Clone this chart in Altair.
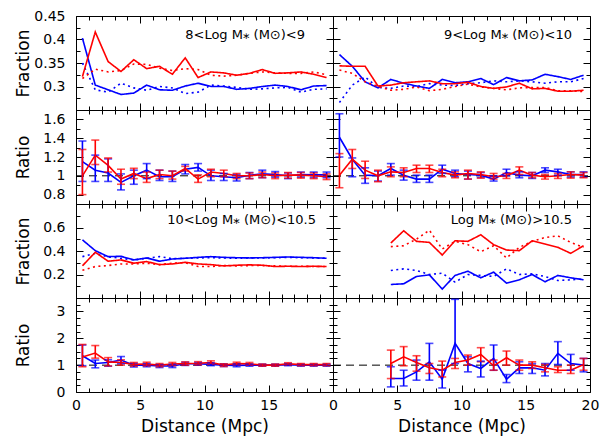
import altair as alt
import pandas as pd

FONT = "DejaVu Sans"
W, H = 257, 94
BLUE, RED = "#0000ff", "#ff0000"

# ---------------- data ----------------
dist = [0.5, 1.5, 2.5, 3.5, 4.5, 5.5, 6.5, 7.5, 8.5, 9.5,
        10.5, 11.5, 12.5, 13.5, 14.5, 15.5, 16.5, 17.5, 18.5, 19.5]
dist_hi = [4.5, 5.5, 6.5, 7.5, 8.5, 9.5, 10.5, 11.5, 12.5, 13.5,
           14.5, 15.5, 16.5, 17.5, 18.5, 19.5]

labels = ["8<Log M\u204e (M\u2299)<9", "9<Log M\u204e (M\u2299)<10",
          "10<Log M\u204e (M\u2299)<10.5", "Log M\u204e (M\u2299)>10.5"]

# fractions, 8<logM<9
f1_blue = [0.403, 0.303, 0.293, 0.283, 0.286, 0.303, 0.293, 0.292, 0.301, 0.307,
           0.300, 0.300, 0.294, 0.296, 0.300, 0.303, 0.300, 0.293, 0.301, 0.302]
f1_blue_dot = [0.350, 0.293, 0.288, 0.307, 0.297, 0.292, 0.300, 0.297, 0.285, 0.288,
               0.303, 0.301, 0.298, 0.294, 0.295, 0.297, 0.298, 0.288, 0.294, 0.295]
f1_red = [0.321, 0.416, 0.353, 0.332, 0.357, 0.338, 0.343, 0.326, 0.361, 0.319,
          0.331, 0.329, 0.324, 0.328, 0.336, 0.328, 0.329, 0.331, 0.326, 0.319]
f1_red_dot = [0.317, 0.337, 0.331, 0.334, 0.348, 0.347, 0.339, 0.334, 0.338, 0.336,
              0.324, 0.322, 0.324, 0.328, 0.331, 0.329, 0.328, 0.328, 0.331, 0.325]

# fractions, 9<logM<10
f2_blue = [0.368, 0.343, 0.310, 0.297, 0.315, 0.307, 0.301, 0.296, 0.315, 0.308,
           0.310, 0.317, 0.304, 0.319, 0.312, 0.314, 0.326, 0.321, 0.315, 0.324]
f2_blue_dot = [0.266, 0.303, 0.320, 0.298, 0.296, 0.301, 0.300, 0.306, 0.303, 0.302,
               0.306, 0.308, 0.312, 0.310, 0.312, 0.310, 0.307, 0.310, 0.310, 0.317]
f2_red = [0.344, 0.343, 0.343, 0.301, 0.303, 0.308, 0.310, 0.312, 0.306, 0.306,
          0.309, 0.300, 0.296, 0.299, 0.307, 0.295, 0.296, 0.290, 0.290, 0.292]
f2_red_dot = [0.335, 0.328, 0.310, 0.300, 0.292, 0.294, 0.299, 0.291, 0.294, 0.300,
              0.305, 0.299, 0.296, 0.293, 0.297, 0.298, 0.298, 0.291, 0.291, 0.289]

# fractions, 10<logM<10.5
f3_blue = [0.495, 0.403, 0.352, 0.355, 0.324, 0.341, 0.313, 0.332, 0.338, 0.346,
           0.352, 0.346, 0.343, 0.341, 0.343, 0.346, 0.349, 0.346, 0.343, 0.338]
f3_blue_dot = [0.352, 0.380, 0.350, 0.338, 0.324, 0.338, 0.352, 0.335, 0.338, 0.341,
               0.343, 0.341, 0.338, 0.341, 0.341, 0.343, 0.346, 0.343, 0.341, 0.338]
f3_red = [0.274, 0.389, 0.313, 0.324, 0.296, 0.310, 0.284, 0.290, 0.304, 0.290,
          0.284, 0.273, 0.279, 0.282, 0.279, 0.268, 0.270, 0.268, 0.270, 0.268]
f3_red_dot = [0.236, 0.268, 0.276, 0.290, 0.290, 0.296, 0.284, 0.296, 0.301, 0.268,
              0.268, 0.276, 0.273, 0.276, 0.276, 0.273, 0.270, 0.270, 0.268, 0.268]

# fractions, logM>10.5 (from 4.5 Mpc)
f4_blue = [0.115, 0.121, 0.183, 0.197, 0.076, 0.192, 0.228, 0.172, 0.220, 0.127,
           0.155, 0.200, 0.138, 0.192, 0.172, 0.155]
f4_blue_dot = [0.234, 0.248, 0.234, 0.200, 0.211, 0.135, 0.200, 0.192, 0.183, 0.248,
               0.200, 0.205, 0.183, 0.149, 0.155, 0.163]
f4_red = [0.468, 0.572, 0.482, 0.473, 0.366, 0.487, 0.482, 0.538, 0.454, 0.408,
          0.403, 0.487, 0.459, 0.431, 0.380, 0.445]
f4_red_dot = [0.437, 0.445, 0.501, 0.577, 0.417, 0.482, 0.454, 0.394, 0.445, 0.341,
              0.431, 0.482, 0.515, 0.529, 0.473, 0.431]

# ratios, 8<logM<9
r1_blue = [1.15, 1.06, 1.03, 0.93, 1.00, 1.06, 0.99, 0.99, 1.07, 1.09,
           1.00, 0.99, 0.98, 1.005, 1.02, 1.014, 1.00, 1.014, 1.01, 1.01]
r1_blue_lo = [0.94, 0.94, 0.94, 0.85, 0.91, 0.97, 0.95, 0.94, 1.02, 1.05,
              0.95, 0.95, 0.945, 0.97, 0.98, 0.985, 0.97, 0.985, 0.98, 0.98]
r1_blue_hi = [1.37, 1.22, 1.18, 1.02, 1.06, 1.13, 1.06, 1.05, 1.12, 1.13,
              1.06, 1.025, 1.015, 1.035, 1.06, 1.045, 1.03, 1.04, 1.04, 1.04]
r1_red = [1.00, 1.22, 1.11, 0.965, 1.025, 0.97, 1.014, 1.00, 1.078, 0.965,
          1.04, 1.025, 1.00, 1.00, 1.014, 1.00, 1.007, 1.007, 1.00, 0.99]
r1_red_lo = [0.80, 1.12, 1.04, 0.91, 0.97, 0.93, 0.97, 0.965, 1.05, 0.93,
             0.99, 0.99, 0.97, 0.97, 0.98, 0.97, 0.975, 0.975, 0.97, 0.96]
r1_red_hi = [1.28, 1.38, 1.19, 1.07, 1.08, 1.04, 1.06, 1.05, 1.10, 1.01,
             1.07, 1.06, 1.025, 1.03, 1.04, 1.03, 1.035, 1.035, 1.03, 1.02]

# ratios, 9<logM<10
r2_blue = [1.41, 1.176, 1.007, 1.00, 1.078, 1.007, 0.965, 0.965, 1.07, 1.025,
           1.014, 1.007, 0.965, 1.035, 1.007, 1.00, 1.06, 1.042, 1.014, 1.014]
r2_blue_lo = [1.20, 0.99, 0.92, 0.944, 1.007, 0.954, 0.93, 0.93, 1.025, 0.99,
              0.965, 0.982, 0.944, 1.00, 0.979, 0.972, 1.035, 1.007, 0.986, 0.986]
r2_blue_hi = [1.66, 1.19, 1.085, 1.05, 1.13, 1.06, 1.007, 1.007, 1.113, 1.06,
              1.05, 1.035, 1.00, 1.07, 1.042, 1.035, 1.085, 1.07, 1.042, 1.042]
r2_red = [1.007, 1.176, 1.06, 1.00, 1.042, 1.035, 1.078, 1.078, 1.035, 1.007,
          1.025, 1.014, 0.99, 1.00, 1.06, 1.007, 0.99, 1.00, 1.014, 1.007]
r2_red_lo = [0.873, 1.078, 0.972, 0.937, 0.99, 0.99, 1.035, 1.035, 0.99, 0.979,
             0.965, 0.975, 0.965, 0.972, 1.014, 0.979, 0.965, 0.972, 0.975, 0.979]
r2_red_hi = [1.236, 1.28, 1.155, 1.06, 1.095, 1.085, 1.113, 1.113, 1.07, 1.042,
             1.06, 1.042, 1.025, 1.025, 1.095, 1.035, 1.014, 1.025, 1.042, 1.035]

# ratios, 10<logM<10.5
r3_blue = [1.35, 1.06, 1.10, 1.19, 1.00, 1.00, 0.97, 0.97, 1.05, 1.05,
           1.03, 1.00, 0.99, 1.00, 1.00, 1.00, 1.02, 1.00, 1.00, 1.00]
r3_blue_lo = [0.98, 0.90, 0.96, 1.05, 0.93, 0.94, 0.91, 0.91, 0.99, 1.00,
              0.98, 0.95, 0.94, 0.96, 0.96, 0.96, 0.98, 0.96, 0.96, 0.96]
r3_blue_hi = [1.75, 1.19, 1.20, 1.32, 1.07, 1.06, 1.03, 1.03, 1.11, 1.10,
              1.08, 1.05, 1.04, 1.04, 1.04, 1.04, 1.06, 1.04, 1.04, 1.04]
r3_red = [1.30, 1.45, 1.12, 1.10, 1.03, 1.04, 1.00, 1.04, 1.06, 1.07,
          1.10, 1.00, 1.06, 1.05, 1.00, 1.00, 1.05, 1.02, 1.02, 1.02]
r3_red_lo = [0.94, 1.26, 0.97, 1.00, 0.96, 0.97, 0.94, 0.98, 1.00, 1.01,
             1.04, 0.95, 1.01, 1.00, 0.96, 0.96, 1.01, 0.98, 0.98, 0.98]
r3_red_hi = [1.77, 1.73, 1.28, 1.20, 1.10, 1.11, 1.06, 1.10, 1.12, 1.13,
             1.16, 1.05, 1.11, 1.10, 1.04, 1.04, 1.09, 1.06, 1.06, 1.06]

# ratios, logM>10.5 (from 4.5 Mpc)
r4_blue = [0.50, 0.50, 0.75, 1.125, 0.475, 1.81, 1.06, 0.875, 1.25, 0.475,
           0.90, 0.90, 0.81, 1.44, 1.06, 1.00]
r4_blue_lo = [0.19, 0.225, 0.44, 0.44, 0.15, 1.06, 0.75, 0.56, 0.81, 0.35,
              0.69, 0.69, 0.60, 1.025, 0.81, 0.75]
r4_blue_hi = [0.94, 0.81, 1.19, 1.81, 0.81, 3.45, 1.31, 1.15, 1.75, 0.65,
              1.125, 1.06, 1.06, 1.875, 1.40, 1.25]
r4_red = [1.06, 1.31, 1.10, 0.90, 0.81, 1.10, 1.19, 1.40, 0.975, 1.275,
          1.00, 1.00, 0.90, 0.81, 0.81, 1.025]
r4_red_lo = [0.50, 0.975, 0.775, 0.69, 0.56, 0.875, 1.00, 1.125, 0.81, 1.00,
             0.81, 0.875, 0.75, 0.725, 0.69, 0.81]
r4_red_hi = [1.56, 1.69, 1.35, 1.06, 1.15, 1.25, 1.375, 1.65, 1.19, 1.525,
             1.19, 1.125, 1.025, 0.94, 1.00, 1.25]

# axis tick values
xticks = list(range(21))
yt_f1 = [0.25, 0.275, 0.3, 0.325, 0.35, 0.375, 0.4, 0.425, 0.45]
yt_r1 = [0.7, 0.8, 0.9, 1.0, 1.1, 1.2, 1.3, 1.4, 1.5, 1.6, 1.7]
yt_f2 = [0.0, 0.1, 0.2, 0.3, 0.4, 0.5, 0.6, 0.7, 0.8]
yt_r2 = [0.0, 0.25, 0.5, 0.75, 1.0, 1.25, 1.5, 1.75, 2.0, 2.25, 2.5, 2.75, 3.0, 3.25, 3.5]


# ---------------- helpers ----------------
def frac_df(d, bs, bd, rs, rd):
    rows = []
    for series, style, vals in [("blue", "solid", bs), ("blue", "dot", bd),
                                ("red", "solid", rs), ("red", "dot", rd)]:
        for x, v in zip(d, vals):
            rows.append({"d": x, "v": v, "series": series, "style": style,
                         "grp": series + style})
    return pd.DataFrame(rows)


def ratio_df(d, b, blo, bhi, r, rlo, rhi):
    rows = []
    for series, vals, lo, hi in [("blue", b, blo, bhi), ("red", r, rlo, rhi)]:
        for x, v, l, h in zip(d, vals, lo, hi):
            rows.append({"d": x, "v": v, "lo": l, "hi": h, "series": series})
    return pd.DataFrame(rows)


def x_enc(bottom, maxlab):
    lab = ("datum.value % 5 == 0 && datum.value <= " + str(maxlab)
           + " ? format(datum.value, 'd') : ''")
    kw = dict(values=xticks, grid=True, gridColor="black", gridOpacity=1, gridWidth=1,
              gridDash={"condition": {"test": "datum.value % 5 == 0", "value": [7, H - 14, 7]},
                        "value": [4, H - 8, 4]},
              ticks=False, domain=False, labels=bottom, labelExpr=lab, labelFont=FONT,
              labelFontSize=14, labelPadding=6, labelFlush=False, labelOverlap=False,
              labelColor="black", titleFont=FONT, titleFontSize=17, titleFontWeight="normal",
              titlePadding=6, titleColor="black")
    kw["title"] = "Distance (Mpc)" if bottom else None
    return alt.X("d:Q", scale=alt.Scale(domain=[0, 20], nice=False, zero=False),
                 axis=alt.Axis(**kw))


def y_axis(vals, mult, lab_lo, lab_hi, left, title):
    m = str(mult)
    major = "abs(datum.value*" + m + " - round(datum.value*" + m + ")) < 0.001"
    lab = ("(" + major + ") && datum.value > " + str(lab_lo) + " && datum.value < "
           + str(lab_hi) + " ? format(datum.value, '.4~g') : ''")
    kw = dict(values=vals, grid=True, gridColor="black", gridOpacity=1, gridWidth=1,
              gridDash={"condition": {"test": major, "value": [7, W - 14, 7]},
                        "value": [4, W - 8, 4]},
              ticks=False, domain=False, labels=left, labelExpr=lab, labelFont=FONT,
              labelFontSize=14, labelPadding=11, labelOverlap=False, labelFlush=False,
              labelColor="black", titleFont=FONT, titleFontSize=17, titleFontWeight="normal",
              titlePadding=4, titleColor="black")
    if left:
        kw["minExtent"] = 40
        kw["maxExtent"] = 40
        kw["title"] = title
    else:
        kw["title"] = None
        kw["minExtent"] = 0
        kw["maxExtent"] = 0
    return alt.Axis(**kw)


color = alt.Color("series:N", scale=alt.Scale(domain=["blue", "red"], range=[BLUE, RED]),
                  legend=None)


def frac_panel(df, left, bottom, top_row, label, lab_dx, lab_y):
    x = x_enc(bottom, 15 if left else 20)
    if top_row:
        ax = y_axis(yt_f1, 20, 0.27, 0.46, left, "Fraction")
        dom = [0.25, 0.45]
    else:
        ax = y_axis(yt_f2, 5, 0.1, 0.7, left, "Fraction")
        dom = [0, 0.8]
    y = alt.Y("v:Q", scale=alt.Scale(domain=dom, nice=False, zero=False), axis=ax)
    lines = alt.Chart(df).mark_line(strokeWidth=1.6, clip=True).encode(
        x=x, y=y, color=color, detail="grp:N",
        strokeDash=alt.StrokeDash("style:N", scale=alt.Scale(domain=["solid", "dot"],
                                                            range=[[1, 0], [2, 3.5]]),
                                  legend=None))
    txt = alt.Chart(pd.DataFrame({"t": [label]})).mark_text(
        align="right", baseline="middle", font=FONT, fontSize=13, color="black").encode(
        text="t:N", x=alt.value(W - lab_dx), y=alt.value(lab_y))
    return alt.layer(lines, txt).properties(width=W, height=H)


def ratio_panel(df, left, bottom, top_row):
    x = x_enc(bottom, 15 if left else 20)
    if top_row:
        ax = y_axis(yt_r1, 5, 0.75, 1.65, left, "Ratio")
        dom = [0.7, 1.7]
    else:
        ax = y_axis(yt_r2, 1, -0.5, 3.2, left, "Ratio")
        dom = [0, 3.5]
    sc = alt.Scale(domain=dom, nice=False, zero=False)
    y = alt.Y("v:Q", scale=sc, axis=ax)
    ref = alt.Chart(pd.DataFrame({"d": [0, 20], "v": [1, 1]})).mark_line(
        color="black", strokeWidth=1, strokeDash=[8, 5]).encode(x=x, y=y)
    lines = alt.Chart(df).mark_line(strokeWidth=1.6, clip=True).encode(
        x=x, y=y, color=color)
    err = alt.Chart(df).mark_errorbar(ticks=True, size=8, thickness=1.6, clip=True).encode(
        x=x, y=alt.Y("lo:Q", scale=sc, axis=ax), y2="hi:Q", color=color)
    return alt.layer(ref, lines, err).properties(width=W, height=H)


p_f1 = frac_panel(frac_df(dist, f1_blue, f1_blue_dot, f1_red, f1_red_dot), True, False,
                  True, labels[0], 28, 19)
p_f2 = frac_panel(frac_df(dist, f2_blue, f2_blue_dot, f2_red, f2_red_dot), False, False,
                  True, labels[1], 18, 19)
p_r1 = ratio_panel(ratio_df(dist, r1_blue, r1_blue_lo, r1_blue_hi,
                            r1_red, r1_red_lo, r1_red_hi), True, False, True)
p_r2 = ratio_panel(ratio_df(dist, r2_blue, r2_blue_lo, r2_blue_hi,
                            r2_red, r2_red_lo, r2_red_hi), False, False, True)
p_f3 = frac_panel(frac_df(dist, f3_blue, f3_blue_dot, f3_red, f3_red_dot), True, False,
                  False, labels[2], 17, 16)
p_f4 = frac_panel(frac_df(dist_hi, f4_blue, f4_blue_dot, f4_red, f4_red_dot), False, False,
                  False, labels[3], 18, 16)
p_r3 = ratio_panel(ratio_df(dist, r3_blue, r3_blue_lo, r3_blue_hi,
                            r3_red, r3_red_lo, r3_red_hi), True, True, False)
p_r4 = ratio_panel(ratio_df(dist_hi, r4_blue, r4_blue_lo, r4_blue_hi,
                            r4_red, r4_red_lo, r4_red_hi), False, True, False)

chart = alt.concat(p_f1, p_f2, p_r1, p_r2, p_f3, p_f4, p_r3, p_r4,
                   columns=2, spacing=0, bounds="flush").properties(
    padding={"left": 5, "top": 0, "right": 5, "bottom": 2},
    background="white",
).configure_view(stroke="black", strokeWidth=1)

chart.save("out.html", embed_options={"renderer": "svg", "actions": False})
